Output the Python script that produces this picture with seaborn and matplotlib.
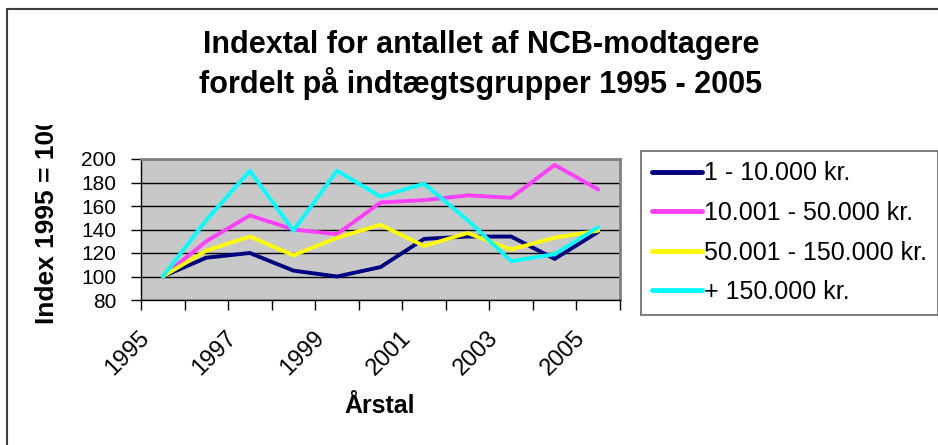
import pandas as pd
import matplotlib.pyplot as plt
import matplotlib.lines as mlines
import matplotlib.transforms as mtransforms
import seaborn as sns

# Data (index 1995 = 100)
aar = [1995, 1996, 1997, 1998, 1999, 2000, 2001, 2002, 2003, 2004, 2005]
gruppe_1 = [100, 116, 120, 105, 100, 108, 132, 134, 134, 115, 138]
gruppe_2 = [100, 130, 152, 140, 136, 163, 165, 169, 167, 195, 174]
gruppe_3 = [100, 122, 134, 118, 133, 144, 126, 137, 123, 133, 139]
gruppe_4 = [100, 148, 190, 139, 190, 168, 179, 148, 113, 119, 142]
grupper = ['1 - 10.000 kr.', '10.001 - 50.000 kr.', '50.001 - 150.000 kr.', '+ 150.000 kr.']
farver = ['#000080', '#FF40FF', '#FFFF00', '#00FFFF']
yticks = [80, 100, 120, 140, 160, 180, 200]

# Long format for seaborn
rows = []
for navn, vals in zip(grupper, [gruppe_1, gruppe_2, gruppe_3, gruppe_4]):
    for i, v in enumerate(vals):
        rows.append({'pos': i, 'aar': aar[i], 'index': v, 'gruppe': navn})
df = pd.DataFrame(rows)

sns.set_style('white')
plt.rcParams['font.family'] = ['Liberation Sans', 'DejaVu Sans']
plt.rcParams['text.color'] = 'black'
plt.rcParams['axes.labelcolor'] = 'black'
plt.rcParams['xtick.color'] = 'black'
plt.rcParams['ytick.color'] = 'black'

fig = plt.figure(figsize=(9.38, 4.45), dpi=100)
ax = fig.add_axes([141 / 938, 1 - 300 / 445, 479 / 938, 141 / 445])
ax.set_facecolor('#C8C8C8')

sns.lineplot(data=df, x='pos', y='index', hue='gruppe', hue_order=grupper,
             palette=farver, linewidth=2.8, ax=ax, legend=False, zorder=3)

# Axes / grid
ax.set_xlim(-0.5, len(aar) - 0.5)
ax.set_ylim(80, 200)
ax.set_yticks(yticks)
ax.set_yticklabels([str(t) for t in yticks], fontsize=15)
ax.yaxis.grid(True, color='#000000', linewidth=1.0, zorder=1)
ax.set_axisbelow(True)

ax.set_xticks([i - 0.5 for i in range(len(aar) + 1)])
ax.set_xticklabels([])
ax.set_xticks(list(range(0, len(aar), 2)), minor=True)
ax.set_xticklabels([str(aar[i]) for i in range(0, len(aar), 2)], minor=True,
                   fontsize=17, rotation=45, ha='right', va='top',
                   rotation_mode='anchor')
ax.tick_params(axis='x', which='minor', length=0, pad=19)
ax.tick_params(axis='both', which='major', direction='out', length=7,
               width=1, color='black', left=True, bottom=True)
ax.tick_params(axis='y', pad=11)
for lbl in ax.get_xticklabels(minor=True):
    lbl.set_transform(lbl.get_transform() + mtransforms.ScaledTranslation(-0.24, 0, fig.dpi_scale_trans))

for side in ['top', 'right']:
    ax.spines[side].set_color('#808080')
    ax.spines[side].set_linewidth(2)
for side in ['left', 'bottom']:
    ax.spines[side].set_color('black')
    ax.spines[side].set_linewidth(1)

ax.set_xlabel('')
ax.set_ylabel('')
fig.text(380 / 938, 1 - 406 / 445, 'Årstal', fontsize=18, fontweight='bold',
         ha='center', va='center')

# Y label, clipped at top like in the original
ylab = fig.text(47 / 938, 1 - 220 / 445, 'Index 1995 = 100', rotation=90,
                fontsize=19, fontweight='bold', ha='center', va='center')
ylab.set_clip_box(mtransforms.Bbox.from_extents(0, 0, 938, 445 - 125))
ylab.set_clip_on(True)

# Title
fig.text(481 / 938, 1 - 45 / 445, 'Indextal for antallet af NCB-modtagere',
         fontsize=22, fontweight='bold', ha='center', va='center')
fig.text(481 / 938, 1 - 83 / 445, 'fordelt på indtægtsgrupper 1995 - 2005',
         fontsize=22, fontweight='bold', ha='center', va='center')

# Legend
handles = [mlines.Line2D([], [], color=c, linewidth=3.5) for c in farver]
leg = fig.legend(handles, grupper, loc='upper left',
                 bbox_to_anchor=(641 / 938, 1 - 151 / 445), fontsize=18,
                 frameon=True, fancybox=False, edgecolor='#404040',
                 handlelength=2.0, handletextpad=0.12, labelspacing=0.62,
                 borderpad=0.42, borderaxespad=0)
leg.get_frame().set_linewidth(1.2)

# Outer chart border (left and top visible)
fig.add_artist(mlines.Line2D([7 / 938, 7 / 938], [0, 1 - 9 / 445],
                             transform=fig.transFigure, color='#404040', linewidth=1.5))
fig.add_artist(mlines.Line2D([7 / 938, 1], [1 - 9 / 445, 1 - 9 / 445],
                             transform=fig.transFigure, color='#404040', linewidth=1.5))

fig.savefig('out.png', dpi=100)
